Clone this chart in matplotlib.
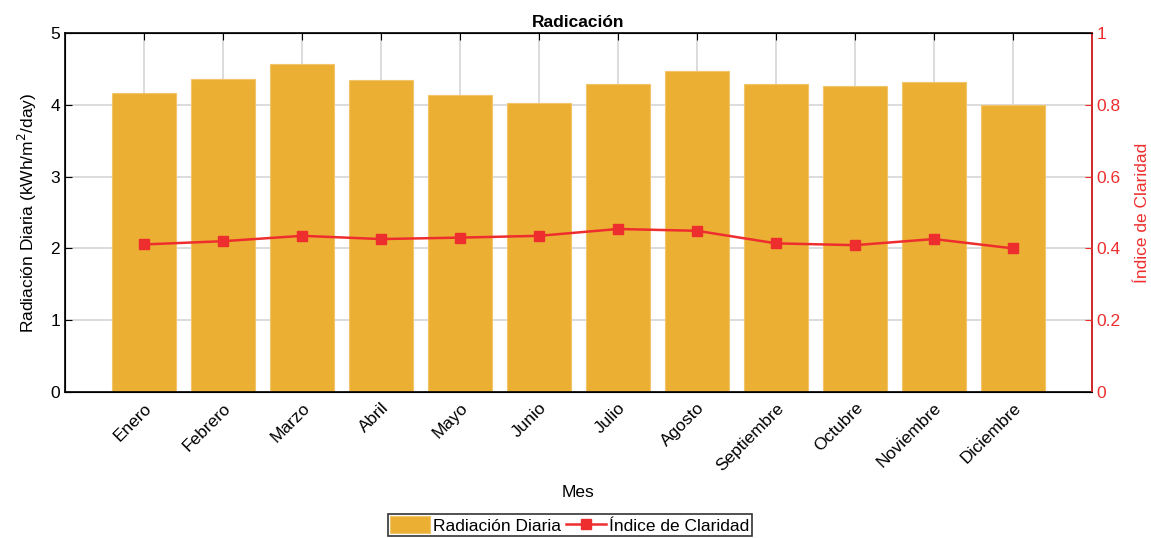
import matplotlib.pyplot as plt
import numpy as np

plt.rcParams['font.family'] = ['Liberation Sans', 'DejaVu Sans']

meses = ["Enero", "Febrero", "Marzo", "Abril", "Mayo", "Junio", "Julio",
         "Agosto", "Septiembre", "Octubre", "Noviembre", "Diciembre"]
radiacion = [4.16, 4.36, 4.57, 4.35, 4.14, 4.03, 4.29, 4.47, 4.29, 4.26, 4.32, 3.99]
claridad = [0.411, 0.420, 0.435, 0.426, 0.430, 0.435, 0.454, 0.449, 0.414, 0.409, 0.426, 0.400]

bar_color = '#EBAF33'
red = '#EE2E2E'
fs = 12.5

fig = plt.figure(figsize=(11.51, 5.38), dpi=100)
ax = fig.add_axes([0.0565, 0.2714, 0.8922, 0.6673])
x = np.arange(1, len(meses) + 1)

ax.set_axisbelow(True)
b = ax.bar(x, radiacion, width=0.82, color=bar_color, edgecolor='#F2C56A',
           linewidth=0.8, label='Radiación Diaria', zorder=2)
ax.set_xlim(0, 13)
ax.set_ylim(0, 5)
ax.set_xticks(x)
ax.set_xticklabels(meses, rotation=45, ha='right', rotation_mode='anchor', fontsize=fs)
ax.set_yticks([0, 1, 2, 3, 4, 5])
ax.tick_params(axis='both', direction='in', labelsize=fs, length=5, top=True)
ax.tick_params(axis='x', pad=6)
ax.grid(True, color='#D5D5D5', linewidth=1.2)
ax.set_ylabel('Radiación Diaria (kWh/m$^2$/day)', fontsize=fs, labelpad=8)
ax.set_xlabel('Mes', fontsize=fs, labelpad=8)
ax.set_title('Radicación', fontsize=fs, fontweight='bold', pad=4)
for s in ax.spines.values():
    s.set_linewidth(1.2)

ax2 = ax.twinx()
l, = ax2.plot(x, claridad, color=red, marker='s', markersize=7, linewidth=1.8,
              label='Índice de Claridad')
ax2.set_ylim(0, 1)
ax2.set_yticks([0, 0.2, 0.4, 0.6, 0.8, 1])
ax2.set_yticklabels(['0', '0.2', '0.4', '0.6', '0.8', '1'])
ax2.tick_params(axis='y', direction='in', colors=red, labelsize=fs, length=5)
ax2.spines['right'].set_color(red)
ax2.spines['right'].set_linewidth(1.2)
ax2.set_ylabel('Índice de Claridad', color=red, fontsize=fs, labelpad=10)

leg = fig.legend([b, l], ['Radiación Diaria', 'Índice de Claridad'], loc='center',
                 bbox_to_anchor=(0.495, 0.024), ncol=2, fontsize=fs, frameon=True,
                 fancybox=False, edgecolor='black', borderpad=0.15, handlelength=2.3,
                 handleheight=1.1, columnspacing=0.3, handletextpad=0.15, borderaxespad=0)
leg.get_frame().set_linewidth(1.2)

fig.savefig('out.png', dpi=100)
